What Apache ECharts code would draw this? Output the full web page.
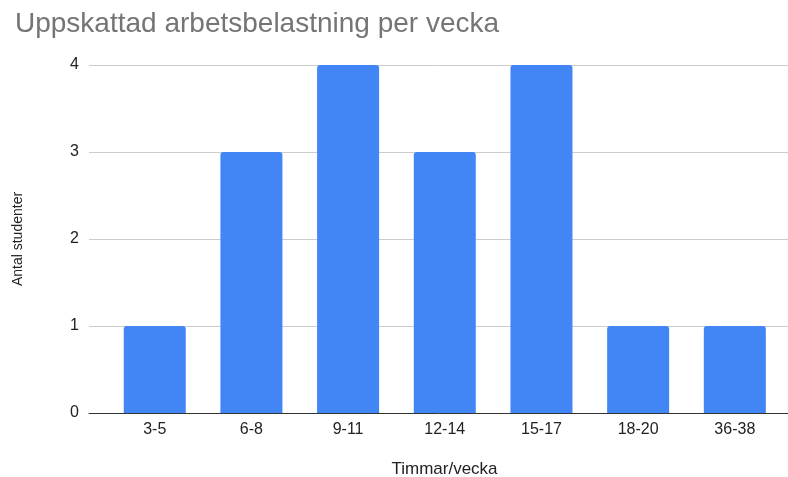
<!DOCTYPE html>
<html>
<head>
<meta charset="utf-8">
<script src="https://cdn.jsdelivr.net/npm/echarts@6/dist/echarts.min.js"></script>
<style>
  html, body { margin: 0; padding: 0; background: #fff; }
  #chart { width: 788px; height: 477px; }
</style>
</head>
<body>
<div id="chart"></div>
<script>
// data
const categories = ['3-5', '6-8', '9-11', '12-14', '15-17', '18-20', '36-38']
const students = [1, 3, 4, 3, 4, 1, 1]
const yTicks = [0, 1, 2, 3, 4]

const chart = echarts.init(document.getElementById('chart'))
const fontFamily = 'Liberation Sans, Arial, sans-serif'

// x is a value axis so the gridlines can start left of the first category
const catIdx = categories.map((c, i) => i)

chart.setOption({
  animation: false,
  title: {
    text: 'Uppskattad arbetsbelastning per vecka',
    left: 10,
    top: 5,
    textStyle: {
      fontFamily: fontFamily,
      fontSize: 28,
      fontWeight: 'normal',
      color: '#757575'
    }
  },
  grid: {
    left: 89,
    right: 0,
    top: 65,
    bottom: 64,
    outerBoundsMode: 'none'
  },
  xAxis: {
    type: 'value',
    min: -0.68,
    max: 6.55,
    name: 'Timmar/vecka',
    nameLocation: 'middle',
    nameGap: 48,
    nameTextStyle: {
      fontFamily: fontFamily,
      fontSize: 17,
      color: '#222',
      padding: [0, 0, 0, 12]
    },
    axisLine: {
      show: true,
      onZero: false,
      lineStyle: { color: '#333', width: 1 }
    },
    axisTick: { show: false },
    splitLine: { show: false },
    axisLabel: {
      customValues: catIdx,
      margin: 9,
      fontFamily: fontFamily,
      fontSize: 16,
      color: '#222',
      formatter: (v) => categories[Math.round(v)] || ''
    }
  },
  yAxis: {
    type: 'value',
    min: 0,
    max: 4,
    interval: 1,
    name: 'Antal studenter',
    nameLocation: 'middle',
    nameGap: 64,
    nameTextStyle: {
      fontFamily: fontFamily,
      fontSize: 14,
      color: '#222'
    },
    axisLine: { show: false },
    axisTick: { show: false },
    axisLabel: {
      margin: 10,
      fontFamily: fontFamily,
      fontSize: 16,
      color: '#222',
      formatter: (v) => yTicks.indexOf(v) >= 0 ? String(v) : ''
    },
    splitLine: {
      show: true,
      lineStyle: { color: '#cccccc', width: 1 }
    }
  },
  series: [{
    type: 'bar',
    barWidth: 62,
    itemStyle: {
      color: '#4285f4',
      borderRadius: [3, 3, 0, 0]
    },
    data: students.map((v, i) => [catIdx[i], v])
  }]
})
</script>
</body>
</html>
